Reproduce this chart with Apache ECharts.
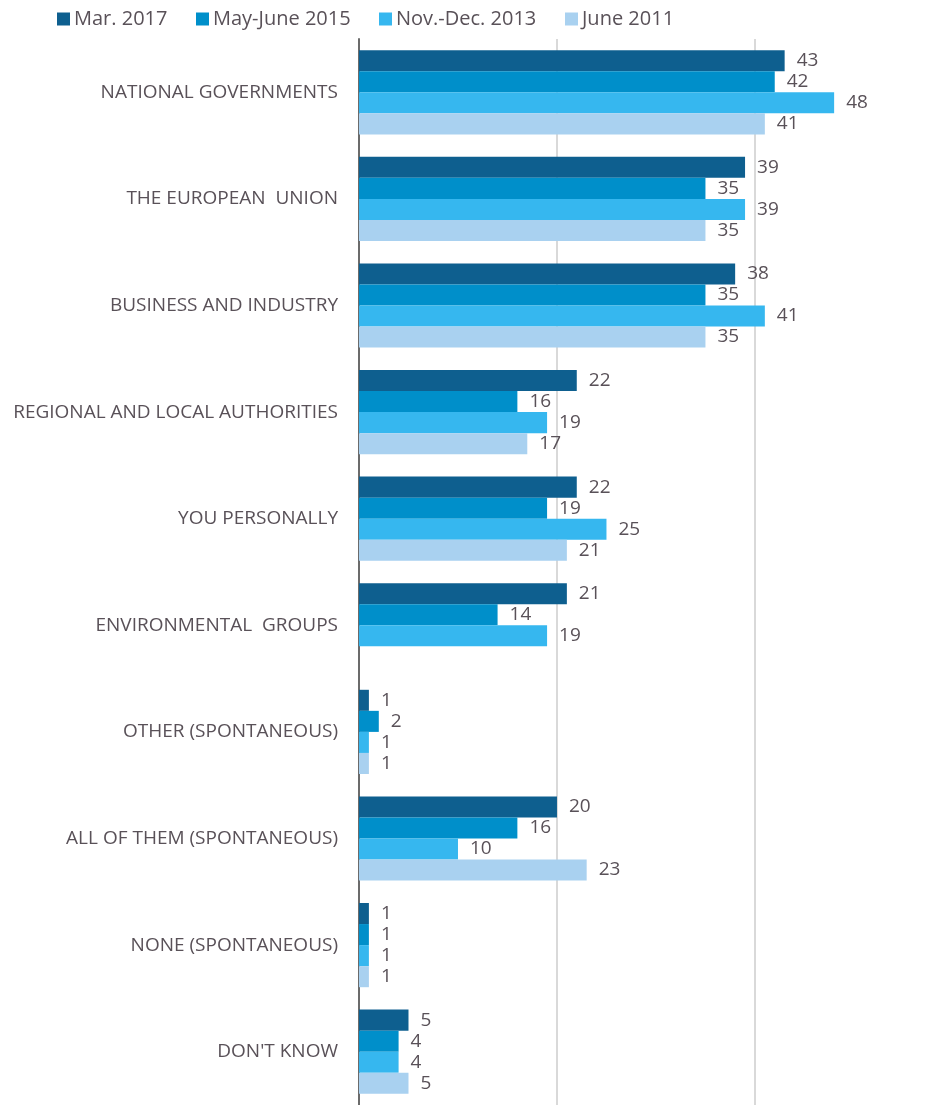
<!DOCTYPE html>
<html>
<head>
<meta charset="utf-8">
<script src="https://cdn.jsdelivr.net/npm/echarts@6/dist/echarts.min.js"></script>
<style>
  html, body { margin: 0; padding: 0; background: #fff; }
  #chart { width: 945px; height: 1105px; }
</style>
</head>
<body>
<div id="chart"></div>
<script>
const categories = [
  "NATIONAL GOVERNMENTS",
  "THE EUROPEAN  UNION",
  "BUSINESS AND INDUSTRY",
  "REGIONAL AND LOCAL AUTHORITIES",
  "YOU PERSONALLY",
  "ENVIRONMENTAL  GROUPS",
  "OTHER (SPONTANEOUS)",
  "ALL OF THEM (SPONTANEOUS)",
  "NONE (SPONTANEOUS)",
  "DON'T KNOW"
];
const seriesNames = ["Mar. 2017", "May-June 2015", "Nov.-Dec. 2013", "June 2011"];
const mar2017 = [43, 39, 38, 22, 22, 21, 1, 20, 1, 5];
const mayJune2015 = [42, 35, 35, 16, 19, 14, 2, 16, 1, 4];
const novDec2013 = [48, 39, 41, 19, 25, 19, 1, 10, 1, 4];
const june2011 = [41, 35, 35, 17, 21, null, 1, 23, 1, 5];
const colors = ["#0e5f8f", "#008fca", "#36b7ef", "#a9d1f0"];

const textColor = "#595158";
const font = "'Open Sans', sans-serif";

// x position of each legend entry, as in the original layout
const legendLeft = [52, 191, 374, 560];

const myChart = echarts.init(document.getElementById("chart"));

const values = [mar2017, mayJune2015, novDec2013, june2011];

const option = {
  animation: false,
  color: colors,
  textStyle: { fontFamily: font },
  legend: seriesNames.map((name, i) => ({
    left: legendLeft[i],
    top: 4,
    itemWidth: 13,
    itemHeight: 13,
    icon: "rect",
    textStyle: { color: textColor, fontSize: 20, fontFamily: font, padding: [0, 0, 0, -1] },
    data: [name]
  })),
  grid: {
    left: 359,
    right: 0,
    top: 39,
    bottom: 0,
    containLabel: false
  },
  xAxis: {
    type: "value",
    min: 0,
    max: 59.2,
    interval: 20,
    axisLabel: { show: false },
    axisTick: { show: false },
    axisLine: { show: false },
    splitLine: {
      show: true,
      showMaxLine: false,
      lineStyle: { color: "#d9d9d9", width: 2 }
    }
  },
  yAxis: {
    type: "category",
    inverse: true,
    data: categories,
    axisTick: { show: false },
    axisLine: { show: true, lineStyle: { color: "#6b6b6b", width: 2 } },
    axisLabel: {
      color: textColor,
      fontSize: 19,
      fontFamily: font,
      margin: 21
    }
  },
  series: seriesNames.map((name, i) => ({
    name: name,
    type: "bar",
    data: values[i],
    barGap: "0%",
    barCategoryGap: "21%",
    label: {
      show: true,
      position: "right",
      distance: 12,
      color: textColor,
      fontSize: 19,
      fontFamily: font
    }
  }))
};

myChart.setOption(option);
</script>
</body>
</html>
